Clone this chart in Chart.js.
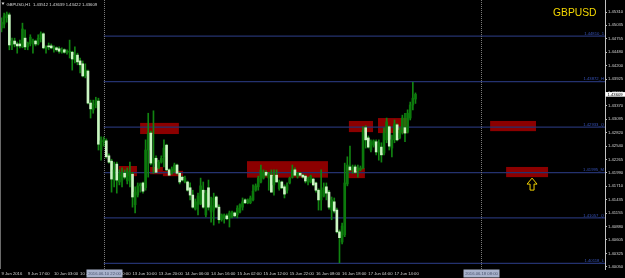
<!DOCTYPE html>
<html><head><meta charset="utf-8">
<script src="https://cdn.jsdelivr.net/npm/chart.js@4.4.1/dist/chart.umd.min.js"></script>
<style>html,body{margin:0;padding:0;background:#000;overflow:hidden}canvas{display:block}</style>
</head><body>
<canvas id="c" width="625" height="278"></canvas>
<script>
// ---------- DATA ----------
const symbolName = 'GBPUSD';
const headerText = 'GBPUSD,H1  1.43512 1.43639 1.43422 1.43609';
const lastPrice = 1.43609;

const opens = [1.4498,1.4506,1.4519,1.4525,1.4463,1.4471,1.4465,1.4465,1.4459,1.4477,
 1.4459,1.4465,1.4469,1.4471,1.4465,1.4475,1.4486,1.4455,1.4461,1.4461,
 1.4455,1.4457,1.4455,1.4448,1.4453,1.4448,1.4448,1.4448,1.4432,1.4442,
 1.4430,1.4424,1.4399,1.4409,1.4343,1.4329,1.4339,1.4347,1.4246,1.4263,
 1.4265,1.4234,1.4223,1.4184,1.4217,1.4180,1.4184,1.4198,1.4182,1.4184,
 1.4196,1.4133,1.4153,1.4172,1.4178,1.4168,1.4246,1.4281,1.4219,1.4229,
 1.4209,1.4221,1.4232,1.4256,1.4205,1.4198,1.4203,1.4215,1.4198,1.4190,
 1.4180,1.4180,1.4168,1.4153,1.4124,1.4133,1.4135,1.4163,1.4112,1.4168,
 1.4118,1.4122,1.4149,1.4128,1.4102,1.4106,1.4110,1.4106,1.4108,1.4116,
 1.4112,1.4118,1.4128,1.4143,1.4137,1.4137,1.4143,1.4163,1.4170,1.4180,
 1.4188,1.4200,1.4188,1.4194,1.4174,1.4194,1.4166,1.4180,1.4170,1.4163,
 1.4178,1.4190,1.4205,1.4192,1.4198,1.4194,1.4192,1.4180,1.4180,1.4186,
 1.4178,1.4163,1.4143,1.4151,1.4170,1.4159,1.4122,1.4139,1.4122,1.4077,
 1.4056,1.4071,1.4176,1.4211,1.4205,1.4211,1.4203,1.4205,1.4209,1.4292,
 1.4271,1.4246,1.4256,1.4263,1.4242,1.4252,1.4240,1.4267,1.4294,1.4250,
 1.4267,1.4298,1.4271,1.4283,1.4292,1.4283,1.4312,1.4339,1.43512];

const highs = [1.4519,1.4529,1.4531,1.4529,1.4477,1.4477,1.4469,1.4473,1.4508,1.4494,
 1.4469,1.4484,1.4475,1.4473,1.4484,1.4490,1.4488,1.4461,1.4467,1.4465,
 1.4461,1.4459,1.4459,1.4457,1.4455,1.4453,1.4473,1.4450,1.4459,1.4446,
 1.4436,1.4430,1.4424,1.4411,1.4349,1.4349,1.4355,1.4353,1.4273,1.4273,
 1.4269,1.4238,1.4227,1.4221,1.4221,1.4205,1.4209,1.4205,1.4209,1.4221,
 1.4200,1.4170,1.4178,1.4178,1.4180,1.4267,1.4322,1.4285,1.4327,1.4234,
 1.4225,1.4234,1.4267,1.4258,1.4207,1.4211,1.4219,1.4217,1.4200,1.4192,
 1.4192,1.4182,1.4178,1.4163,1.4145,1.4157,1.4188,1.4180,1.4163,1.4184,
 1.4149,1.4157,1.4151,1.4133,1.4114,1.4114,1.4114,1.4120,1.4120,1.4118,
 1.4131,1.4135,1.4147,1.4145,1.4145,1.4151,1.4174,1.4176,1.4192,1.4215,
 1.4205,1.4203,1.4200,1.4205,1.4205,1.4205,1.4184,1.4182,1.4174,1.4178,
 1.4190,1.4215,1.4209,1.4200,1.4200,1.4196,1.4194,1.4190,1.4194,1.4188,
 1.4180,1.4166,1.4205,1.4178,1.4178,1.4163,1.4149,1.4147,1.4126,1.4081,
 1.4095,1.4219,1.4232,1.4254,1.4215,1.4215,1.4215,1.4213,1.4294,1.4296,
 1.4275,1.4267,1.4267,1.4267,1.4267,1.4261,1.4292,1.4312,1.4296,1.4277,
 1.4308,1.4300,1.4292,1.4318,1.4322,1.4329,1.4345,1.4386,1.43639];

const lows = [1.4490,1.4498,1.4510,1.4453,1.4453,1.4459,1.4446,1.4457,1.4457,1.4453,
 1.4453,1.4461,1.4446,1.4461,1.4463,1.4469,1.4455,1.4446,1.4453,1.4455,
 1.4448,1.4450,1.4446,1.4446,1.4446,1.4444,1.4436,1.4411,1.4426,1.4422,
 1.4405,1.4397,1.4395,1.4341,1.4312,1.4322,1.4333,1.4246,1.4225,1.4254,
 1.4229,1.4219,1.4159,1.4170,1.4157,1.4174,1.4170,1.4186,1.4176,1.4170,
 1.4128,1.4116,1.4149,1.4159,1.4157,1.4163,1.4190,1.4215,1.4198,1.4200,
 1.4207,1.4219,1.4211,1.4203,1.4194,1.4196,1.4200,1.4196,1.4176,1.4182,
 1.4178,1.4161,1.4143,1.4126,1.4122,1.4112,1.4133,1.4126,1.4108,1.4122,
 1.4097,1.4091,1.4126,1.4095,1.4099,1.4095,1.4102,1.4087,1.4106,1.4108,
 1.4106,1.4116,1.4122,1.4135,1.4135,1.4135,1.4141,1.4161,1.4163,1.4178,
 1.4186,1.4192,1.4163,1.4159,1.4153,1.4180,1.4163,1.4166,1.4147,1.4157,
 1.4176,1.4188,1.4194,1.4188,1.4192,1.4188,1.4178,1.4174,1.4178,1.4172,
 1.4159,1.4122,1.4122,1.4149,1.4143,1.4124,1.4102,1.4116,1.4075,1.4013,
 1.4052,1.4067,1.4172,1.4203,1.4198,1.4198,1.4190,1.4203,1.4207,1.4250,
 1.4250,1.4242,1.4252,1.4236,1.4225,1.4221,1.4236,1.4261,1.4246,1.4232,
 1.4261,1.4265,1.4269,1.4279,1.4263,1.4281,1.4308,1.4329,1.43422];

const closes = [1.4510,1.4523,1.4527,1.4463,1.4471,1.4465,1.4461,1.4461,1.4496,1.4459,
 1.4467,1.4479,1.4471,1.4465,1.4477,1.4486,1.4457,1.4459,1.4459,1.4457,
 1.4457,1.4453,1.4450,1.4453,1.4448,1.4450,1.4450,1.4434,1.4442,1.4428,
 1.4422,1.4399,1.4411,1.4343,1.4331,1.4341,1.4349,1.4258,1.4265,1.4267,
 1.4232,1.4221,1.4186,1.4205,1.4184,1.4196,1.4200,1.4190,1.4203,1.4200,
 1.4149,1.4159,1.4172,1.4176,1.4161,1.4246,1.4281,1.4219,1.4229,1.4200,
 1.4221,1.4229,1.4250,1.4205,1.4194,1.4207,1.4215,1.4198,1.4180,1.4184,
 1.4188,1.4163,1.4153,1.4128,1.4139,1.4151,1.4172,1.4128,1.4157,1.4128,
 1.4131,1.4147,1.4128,1.4102,1.4112,1.4112,1.4104,1.4116,1.4118,1.4110,
 1.4126,1.4133,1.4139,1.4137,1.4143,1.4147,1.4161,1.4172,1.4188,1.4205,
 1.4200,1.4194,1.4196,1.4159,1.4192,1.4180,1.4180,1.4168,1.4155,1.4174,
 1.4188,1.4205,1.4194,1.4198,1.4194,1.4190,1.4182,1.4186,1.4192,1.4174,
 1.4163,1.4143,1.4163,1.4168,1.4157,1.4128,1.4143,1.4120,1.4077,1.4065,
 1.4089,1.4178,1.4215,1.4205,1.4211,1.4200,1.4209,1.4209,1.4287,1.4267,
 1.4252,1.4263,1.4265,1.4242,1.4261,1.4236,1.4281,1.4304,1.4254,1.4267,
 1.4300,1.4267,1.4287,1.4312,1.4281,1.4322,1.4339,1.4353,1.43609];

const tickIdx = [0,10,20,30,40,50,60,70,80,90,100,110,120,130,140,150];
const timeLabels = ['9 Jun 2016','9 Jun 17:00','10 Jun 03:00','10 Jun 13:00','13 Jun 00:00','13 Jun 10:00',
 '13 Jun 20:00','14 Jun 06:00','14 Jun 16:00','15 Jun 02:00','15 Jun 12:00','15 Jun 22:00',
 '16 Jun 08:00','16 Jun 18:00','17 Jun 04:00','17 Jun 14:00'];

const priceTicks = [1.45310,1.45035,1.44755,1.44480,1.44200,1.43925,1.43650,1.43370,1.43095,1.42820,
 1.42540,1.42265,1.41990,1.41710,1.41435,1.41155,1.40880,1.40605,1.40325,1.40050];

const levelValues = [1.44810,1.43872,1.42933,1.41995,1.41057,1.40118];
const levelNames = ['1.44810_1','1.43872_H','1.42933_Q','1.41995_M','1.41057_Q','1.40118_L'];

const zoneStart  = [52.9, 44.8, 56.7, 61.6, 93.7, 132.6, 143.7, 131.9, 186.5, 192.6];
const zoneEnd    = [67.7, 51.7, 61.6, 69.3, 124.6, 141.8, 154.8, 138.7, 204.0, 208.6];
const zoneTop    = [1.4302,1.4213,1.4211,1.4203,1.4223,1.4306,1.4312,1.4209,1.4306,1.4211];
const zoneBottom = [1.4279,1.4192,1.4196,1.4192,1.4189,1.4283,1.4281,1.4188,1.4285,1.4190];

const vLineIdx = [39, 183];
const vLineLabels = ['2016.06.10 22:00','2016.06.18 08:00'];

const arrowIdx = [202.5];
const arrowPrice = [1.4188];

// ---------- STYLE ----------
const FONT = 'Liberation Sans, Arial, sans-serif';
const bullColor = '#0c7a0c', bearColor = '#caf6c2', wickColor = '#118411';
const idx = opens.map((_, i) => i);
const bodyColors = idx.map(i => closes[i] >= opens[i] ? bullColor : bearColor);

const overlay = {
  id: 'overlay',
  beforeDraw(chart) {
    const c = chart.ctx; c.save(); c.fillStyle = '#000'; c.fillRect(0, 0, chart.width, chart.height); c.restore();
  },
  beforeDatasetsDraw(chart) {
    const {ctx, chartArea: a, scales: {x, y}} = chart;
    ctx.save();
    ctx.beginPath(); ctx.rect(a.left, a.top, a.right - a.left, a.bottom - a.top); ctx.clip();
    // zones
    ctx.fillStyle = '#8c0000';
    for (let k = 0; k < zoneStart.length; k++) {
      const x0 = x.getPixelForValue(zoneStart[k]), x1 = x.getPixelForValue(zoneEnd[k]);
      const y0 = y.getPixelForValue(zoneTop[k]), y1 = y.getPixelForValue(zoneBottom[k]);
      ctx.fillRect(x0, y0, x1 - x0, y1 - y0);
    }
    // levels
    const xs = x.getPixelForValue(vLineIdx[0]);
    ctx.strokeStyle = '#24326f'; ctx.lineWidth = 1.2;
    for (const v of levelValues) {
      const py = y.getPixelForValue(v);
      ctx.beginPath(); ctx.moveTo(xs, py); ctx.lineTo(a.right, py); ctx.stroke();
    }
    // dotted verticals
    ctx.strokeStyle = '#7a7a7a'; ctx.lineWidth = 1; ctx.setLineDash([1, 1]);
    for (const v of vLineIdx) {
      const px = Math.round(x.getPixelForValue(v)) + 0.5;
      ctx.beginPath(); ctx.moveTo(px, a.top); ctx.lineTo(px, a.bottom); ctx.stroke();
    }
    ctx.restore();
  },
  afterDraw(chart) {
    const {ctx, chartArea: a, scales: {x, y}} = chart;
    ctx.save();
    // left frame
    ctx.strokeStyle = '#6a6a6a'; ctx.lineWidth = 1;
    ctx.beginPath(); ctx.moveTo(0.5, a.top); ctx.lineTo(0.5, a.bottom); ctx.stroke();
    // level labels
    ctx.font = '4.2px ' + FONT; ctx.fillStyle = '#3652b8'; ctx.textAlign = 'right'; ctx.textBaseline = 'alphabetic';
    levelValues.forEach((v, k) => {
      const py = y.getPixelForValue(v);
      ctx.fillText(levelNames[k], a.right - 1, py - 1.2);
    });
    // title
    ctx.font = '10.3px ' + FONT; ctx.fillStyle = '#f5d800'; ctx.textAlign = 'left';
    ctx.fillText(symbolName, 553, 15.7);
    // header
    ctx.fillStyle = '#dcdcdc';
    ctx.beginPath(); ctx.moveTo(1.5, 2.5); ctx.lineTo(4.5, 2.5); ctx.lineTo(3, 5); ctx.closePath(); ctx.fill();
    ctx.font = '4.2px ' + FONT; ctx.fillText(headerText, 6.5, 5.6);
    // current price box
    const py = y.getPixelForValue(lastPrice);
    ctx.fillStyle = '#ffffff'; ctx.fillRect(a.right + 0.5, py - 2.3, 20, 4.6);
    ctx.fillStyle = '#000'; ctx.textBaseline = 'middle'; ctx.fillText(lastPrice.toFixed(5), a.right + 2.5, py + 0.2);
    // vertical line time boxes
    vLineIdx.forEach((v, k) => {
      const px = Math.round(x.getPixelForValue(v)) + 0.5;
      ctx.fillStyle = '#a9b3cc'; ctx.fillRect(px - 18, a.bottom + 0.5, 36, 8);
      ctx.fillStyle = '#46506c'; ctx.textAlign = 'center'; ctx.textBaseline = 'middle';
      ctx.fillText(vLineLabels[k], px, a.bottom + 4.6);
    });
    // arrow
    ctx.strokeStyle = '#f0d000'; ctx.lineWidth = 1;
    arrowIdx.forEach((v, k) => {
      const tx = x.getPixelForValue(v), ty = y.getPixelForValue(arrowPrice[k]);
      ctx.beginPath();
      ctx.moveTo(tx, ty); ctx.lineTo(tx + 5, ty + 6); ctx.lineTo(tx + 2, ty + 6); ctx.lineTo(tx + 2, ty + 12);
      ctx.lineTo(tx - 2, ty + 12); ctx.lineTo(tx - 2, ty + 6); ctx.lineTo(tx - 5, ty + 6); ctx.closePath();
      ctx.stroke();
    });
    ctx.restore();
  }
};

new Chart(document.getElementById('c'), {
  type: 'bar',
  data: {
    datasets: [
      { label: 'body', data: idx.map(i => ({x: i, y: [opens[i], closes[i]]})), backgroundColor: bodyColors,
        barThickness: 2, minBarLength: 1, grouped: false, borderWidth: 0, order: 0 },
      { label: 'wick', data: idx.map(i => ({x: i, y: [lows[i], highs[i]]})), backgroundColor: wickColor,
        barThickness: 1, grouped: false, borderWidth: 0, order: 1 }
    ]
  },
  options: {
    responsive: false, animation: false, events: [],
    layout: { padding: 0, autoPadding: false },
    plugins: { legend: { display: false }, tooltip: { enabled: false } },
    scales: {
      x: {
        type: 'linear', min: -0.573, max: 230.34, offset: false,
        grid: { display: true, drawOnChartArea: false, drawTicks: false, offset: false },
        border: { display: false },
        afterBuildTicks: s => { s.ticks = tickIdx.map(v => ({value: v})); },
        afterFit: s => { s.height = 9; s.paddingLeft = 0; s.paddingRight = 0; },
        ticks: { autoSkip: false, maxRotation: 0, minRotation: 0, align: 'start', padding: 2,
          color: '#d4d4d4', font: { family: FONT, size: 4.2 },
          callback: v => { const k = tickIdx.indexOf(v); return k >= 0 ? timeLabels[k] : ''; } }
      },
      y: {
        type: 'linear', position: 'right', min: 1.40003, max: 1.45558,
        grid: { display: true, drawOnChartArea: false, drawTicks: true, tickLength: 2, color: '#c0c0c0' },
        border: { display: true, color: '#c0c0c0' },
        afterBuildTicks: s => { s.ticks = priceTicks.map(v => ({value: v})); },
        afterFit: s => { s.width = 20; s.paddingTop = 0; s.paddingBottom = 0; },
        ticks: { autoSkip: false, padding: 1, color: '#d4d4d4', font: { family: FONT, size: 4.2 },
          callback: v => v.toFixed(5) }
      }
    }
  },
  plugins: [overlay]
});
</script>
</body></html>
